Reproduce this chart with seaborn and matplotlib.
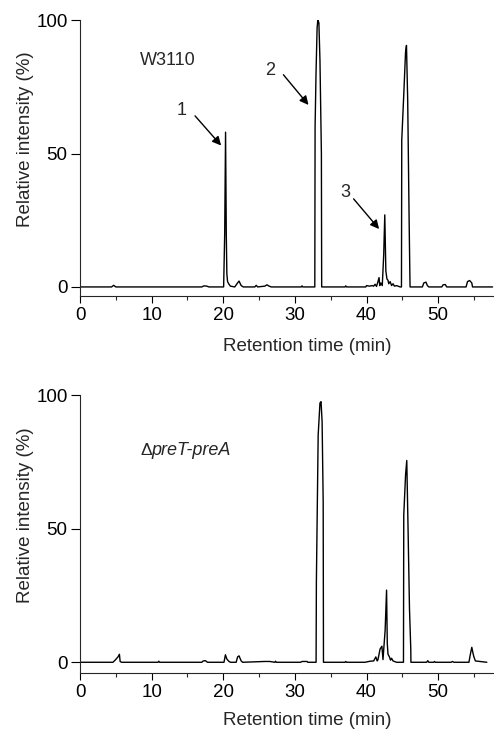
import numpy as np
import pandas as pd
import matplotlib
matplotlib.use("Agg")
import matplotlib.pyplot as plt
import seaborn as sns
from matplotlib.ticker import MultipleLocator

# chromatogram traces (retention time in min, relative intensity in %)
time_wt = [0, 4.4, 4.7, 5.0, 17.0, 17.3, 17.7, 18.0,
           20.05, 20.2, 20.32, 20.42, 20.5, 20.6, 20.8, 21.0,
           21.6, 22.0, 22.2, 22.5, 22.8, 24.4, 24.6, 24.8,
           25.8, 26.1, 26.4, 26.7, 30.9, 31.0, 31.1,
           32.78, 32.82, 32.95, 33.1, 33.2, 33.35, 33.5, 33.7, 33.74,
           37.0, 37.1, 37.2, 39.9, 40.0, 40.4, 40.8, 41.0, 41.2, 41.4,
           41.6, 41.75, 41.85, 42.0, 42.2, 42.4, 42.55, 42.7, 42.85,
           43.0, 43.1, 43.3, 43.5, 43.7, 43.9, 44.2, 44.7,
           44.88, 44.92, 45.2, 45.45, 45.58, 45.75, 45.95, 46.05, 46.08,
           47.8, 48.0, 48.3, 48.5, 48.7, 50.5, 50.7, 51.0, 51.2,
           53.9, 54.1, 54.4, 54.7, 54.8, 57.6]
int_wt = [0, 0, 0.6, 0, 0, 0.4, 0.3, 0,
          0, 20, 58, 20, 5, 2, 1, 0.3,
          0, 1.5, 2.2, 0.5, 0, 0, 0.6, 0,
          0.3, 0.8, 0.3, 0, 0, 0.4, 0,
          0, 60, 80, 97, 100, 99, 85, 50, 0,
          0, 0.4, 0, 0, 0.5, 0.3, 0.5, 0.3, 1.0, 0.2,
          2, 3.5, 0.5, 1.5, 0.5, 12, 27, 6, 3,
          2.5, 1.2, 2, 0.5, 1.2, 0.3, 0.5, 0,
          0, 55, 72, 88, 90.5, 70, 25, 5, 0,
          0, 1.5, 1.8, 0.5, 0, 0, 0.8, 0.9, 0,
          0, 2, 2.4, 1.5, 0, 0]

time_ko = [0, 4.6, 4.9, 5.3, 5.5, 5.6, 5.8, 10.9, 11.0, 11.1,
           17.0, 17.2, 17.5, 17.8, 20.1, 20.3, 20.5, 20.8, 21.0,
           21.8, 22.0, 22.2, 22.5, 22.7, 25.8, 26.5, 27.2, 27.3, 27.4,
           30.8, 31.0, 31.7, 31.8,
           32.96, 33.0, 33.25, 33.5, 33.65, 33.8, 33.95, 33.99,
           37.0, 37.1, 37.2, 39.8, 40.5, 41.0, 41.3, 41.5, 41.6, 41.9,
           42.15, 42.3, 42.6, 42.8, 42.9, 43.0, 43.2, 43.35, 43.5, 43.7, 43.9, 44.2,
           45.16, 45.2, 45.45, 45.62, 45.8, 46.0, 46.18, 46.2,
           48.4, 48.55, 48.7, 49.4, 49.5, 49.6, 51.8, 52.0, 52.2,
           54.3, 54.5, 54.7, 54.9, 55.0, 55.2, 56.8]
int_ko = [0, 0, 0.8, 2, 3, 0.3, 0, 0, 0.4, 0,
          0, 0.5, 0.6, 0, 0, 2.8, 1.2, 0.3, 0,
          0, 2.0, 2.4, 0.5, 0, 0.3, 0.3, 0, 0.4, 0,
          0, 0.3, 0.3, 0,
          0, 30, 85, 97, 97.5, 90, 60, 0,
          0, 0.3, 0, 0, 0.4, 0.5, 2, 0.5, 1, 5,
          6, 1, 12, 27, 7, 3, 2, 0.8, 1.5, 0.5, 0.3, 0,
          0, 55, 70, 75.5, 50, 20, 5, 0,
          0, 0.6, 0, 0, 0.3, 0, 0, 0.3, 0,
          0, 3, 5.6, 3, 2, 0.5, 0]

panels = [("W3110", time_wt, int_wt), ("ΔpreT-preA", time_ko, int_ko)]

sns.set_theme(style="ticks")
plt.rcParams['font.family'] = ['Liberation Sans', 'DejaVu Sans']
plt.rcParams['axes.linewidth'] = 0.8

fig = plt.figure(figsize=(4.94, 7.30), dpi=100)
ax_top = fig.add_axes([0.162, 0.5945, 0.838, 0.378])
ax_bot = fig.add_axes([0.162, 0.0785, 0.838, 0.3804])

for ax, (name, t, y), ymin, xl_y in [(ax_top, panels[0], -3.4, -0.151),
                                      (ax_bot, panels[1], -3.9, -0.14)]:
    df = pd.DataFrame({"time": t, "intensity": y})
    sns.lineplot(data=df, x="time", y="intensity", ax=ax, color="black",
                 linewidth=1.0, estimator=None, sort=False)
    ax.set_xlim(0, 57.8)
    ax.set_ylim(ymin, 100)
    ax.set_yticks([0, 50, 100])
    ax.xaxis.set_major_locator(MultipleLocator(10))
    ax.xaxis.set_minor_locator(MultipleLocator(5))
    ax.tick_params(axis='y', length=6.5, width=0.8, pad=2.5, labelsize=13.5, colors='black')
    ax.tick_params(axis='x', which='major', length=4.8, width=0.8, pad=3, labelsize=13.5, colors='black')
    ax.tick_params(axis='x', which='minor', length=2.9, width=0.8)
    sns.despine(ax=ax)
    ax.set_xlabel("Retention time (min)", fontsize=13.5)
    ax.set_ylabel("Relative intensity (%)", fontsize=13.5)
    ax.xaxis.set_label_coords(0.55, xl_y)
    ax.yaxis.set_label_coords(-0.111, 0.569)

ax_top.text(8.4, 84.7, "W3110", fontsize=13, ha='left', va='center')
ax_bot.text(8.4, 79.2, "Δ", fontsize=12.5, ha='left', va='center')
ax_bot.text(10.0, 79.2, "preT-preA", fontsize=13, style='italic', ha='left', va='center')

arrows = [("1", (14.2, 66), (16.06, 64.1), (19.7, 53)),
          ("2", (26.6, 81.1), (28.4, 79.5), (31.9, 68.2)),
          ("3", (37.0, 35.4), (38.2, 33), (41.76, 21.7))]
for lab, lpos, start, tip in arrows:
    ax_top.text(lpos[0], lpos[1], lab, fontsize=13, ha='center', va='center')
    ax_top.annotate("", xy=tip, xytext=start,
                    arrowprops=dict(arrowstyle='-|>', color='black', lw=1.0,
                                    mutation_scale=13, shrinkA=0, shrinkB=0))

fig.savefig("out.png", dpi=100)
